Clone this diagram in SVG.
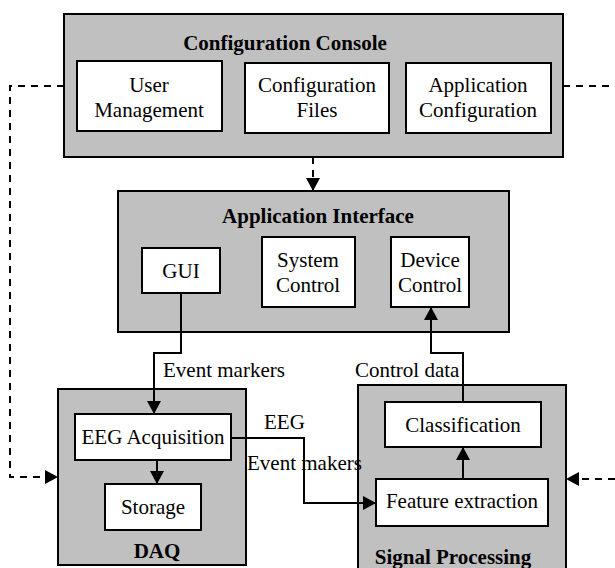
<svg xmlns="http://www.w3.org/2000/svg" width="615" height="568" viewBox="0 0 615 568">
<style>
.grp{fill:#c0c0c0;stroke:#000;stroke-width:2}
.box{fill:#fff;stroke:#000;stroke-width:2}
text{font-family:"Liberation Serif","Times New Roman",serif;font-size:21px;fill:#000}
.c{text-anchor:middle}
.b{font-weight:bold}
.ln{fill:none;stroke:#000;stroke-width:2}
.d{stroke-dasharray:7,6}
</style>
<defs>
<marker id="arr" markerUnits="userSpaceOnUse" markerWidth="14" markerHeight="14" refX="13" refY="7" orient="auto">
<path d="M0,0 L13,7 L0,14 Z" fill="#000"/>
</marker>
</defs>
<rect width="615" height="568" fill="#fff"/>

<g id="config-console">
<rect class="grp" x="64" y="14" width="499" height="143"/>
<text class="c b" x="285" y="50">Configuration Console</text>
</g>
<g id="user-management">
<rect class="box" x="77" y="61" width="145" height="70"/>
<text class="c" x="149" y="92">User</text>
<text class="c" x="149" y="117">Management</text>
</g>
<g id="configuration-files">
<rect class="box" x="245" y="63" width="144" height="70"/>
<text class="c" x="317" y="92">Configuration</text>
<text class="c" x="317" y="117">Files</text>
</g>
<g id="application-configuration">
<rect class="box" x="406" y="63" width="145" height="70"/>
<text class="c" x="478" y="92">Application</text>
<text class="c" x="478" y="117">Configuration</text>
</g>

<g id="application-interface">
<rect class="grp" x="118" y="191" width="391" height="141"/>
<text class="c b" x="318" y="223">Application Interface</text>
</g>
<g id="gui">
<rect class="box" x="142" y="248" width="78" height="45"/>
<text class="c" x="181" y="278">GUI</text>
</g>
<g id="system-control">
<rect class="box" x="262" y="237" width="93" height="70"/>
<text class="c" x="308" y="267">System</text>
<text class="c" x="308" y="292">Control</text>
</g>
<g id="device-control">
<rect class="box" x="391" y="237" width="78" height="70"/>
<text class="c" x="430" y="267">Device</text>
<text class="c" x="430" y="292">Control</text>
</g>

<g id="daq">
<rect class="grp" x="58" y="389" width="188" height="176"/>
<text class="c b" x="157" y="558">DAQ</text>
</g>
<g id="eeg-acquisition">
<rect class="box" x="75" y="414" width="156" height="46"/>
<text class="c" x="153" y="444">EEG Acquisition</text>
</g>
<g id="storage">
<rect class="box" x="105" y="484" width="96" height="46"/>
<text class="c" x="153" y="514">Storage</text>
</g>

<g id="signal-processing">
<rect class="grp" x="358" y="385" width="208" height="190"/>
<text class="c b" x="453" y="564">Signal Processing</text>
</g>
<g id="classification">
<rect class="box" x="385" y="402" width="156" height="45"/>
<text class="c" x="463" y="432">Classification</text>
</g>
<g id="feature-extraction">
<rect class="box" x="376" y="479" width="172" height="47"/>
<text class="c" x="462" y="508">Feature extraction</text>
</g>

<g id="connectors">
<path class="ln d" d="M64,86 H10 V477 H58" marker-end="url(#arr)"/>
<path class="ln d" d="M563,86 H615"/>
<path class="ln d" d="M615,479 H566" marker-end="url(#arr)"/>
<path class="ln d" d="M313,157 V191" marker-end="url(#arr)"/>
<path class="ln" d="M181,293 V353 H154 V414" marker-end="url(#arr)"/>
<path class="ln" d="M463,402 V353 H431 V307" marker-end="url(#arr)"/>
<path class="ln" d="M231,438 H304 V503 H376" marker-end="url(#arr)"/>
<path class="ln" d="M157,460 V484" marker-end="url(#arr)"/>
<path class="ln" d="M463,479 V447" marker-end="url(#arr)"/>
<text x="163" y="377">Event markers</text>
<text x="355" y="377">Control data</text>
<text x="264" y="429">EEG</text>
<text x="247" y="470">Event makers</text>
</g>
</svg>
